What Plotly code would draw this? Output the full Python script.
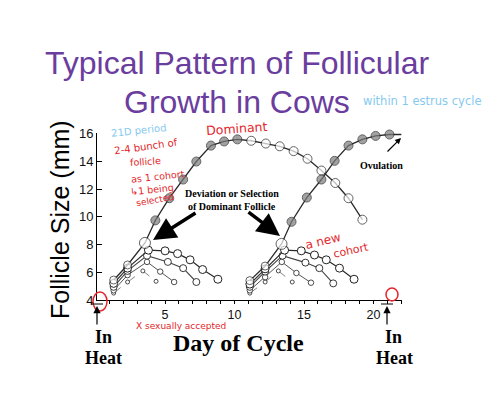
import plotly.graph_objects as go

# ---------------- data (day of cycle, follicle size mm) ----------------
# first follicular wave
dom1_day = [1.3, 2.3, 3.55, 4.3, 5.3, 6.3, 7.25, 8.3, 9.25, 10.2, 11.2, 12.25, 13.25, 14.25, 15.25, 16.25, 17.25, 18.2, 19.2]
dom1_mm = [5.44, 6.53, 8.12, 9.75, 11.35, 12.7, 14.0, 15.15, 15.45, 15.6, 15.5, 15.3, 15.1, 14.75, 14.2, 13.35, 12.45, 11.35, 9.8]
sub1a_day = [1.3, 2.3, 3.8, 5.0, 5.9, 6.8, 7.7, 8.8]
sub1a_mm = [5.2, 6.3, 7.6, 7.55, 7.35, 6.9, 6.2, 5.5]
sub1b_day = [1.3, 2.3, 3.7, 5.2, 6.3, 7.25]
sub1b_mm = [4.95, 6.1, 7.2, 6.75, 6.3, 5.3]
sub1c_day = [1.3, 2.3, 3.7, 4.65, 5.65]
sub1c_mm = [4.7, 5.8, 6.75, 6.05, 5.3]
sub1d_day = [1.3, 2.3, 3.4, 4.35]
sub1d_mm = [4.5, 5.3, 6.1, 5.35]

# second (ovulatory) follicular wave
dom2_day = [11.1, 12.2, 13.38, 14.1, 15.2, 16.25, 17.2, 18.2, 19.2, 20.15, 21.15, 22.0]
dom2_mm = [5.4, 6.45, 8.05, 9.65, 11.4, 12.7, 14.05, 15.15, 15.6, 15.85, 15.95, 15.95]
sub2a_day = [11.1, 12.2, 13.6, 14.8, 15.75, 16.6, 17.55, 18.6]
sub2a_mm = [5.15, 6.25, 7.6, 7.55, 7.25, 6.9, 6.3, 5.5]
sub2b_day = [11.1, 12.2, 13.45, 15.1, 16.1, 17.1]
sub2b_mm = [4.95, 6.05, 7.2, 6.7, 6.3, 5.2]
sub2c_day = [11.1, 12.2, 13.4, 14.45, 15.5]
sub2c_mm = [4.7, 5.65, 6.75, 5.95, 5.25]
sub2d_day = [11.1, 12.2, 13.15, 14.15]
sub2d_mm = [4.5, 5.3, 6.1, 5.3]

x_ticks = [5, 10, 15, 20]
y_ticks = [4, 6, 8, 10, 12, 14, 16]

# ---------------- layout helpers ----------------
W, H = 500, 396
L, R, T, B = 97, 402, 133, 300
def px(x):
    return (x - L) / (R - L)
def py(y):
    return (B - y) / (B - T)

GRAY = "#7b7b7b"
LINE = "#2a2a2a"
RED = "#e3262b"
BLUE = "#86c9ef"
PURPLE = "#6a3d9e"

fig = go.Figure()

def add(days, mm, fills, sizes, dash="solid", lw=1.2, lc=LINE, mlw=1.0):
    fig.add_trace(go.Scatter(
        x=days, y=mm, mode="lines+markers",
        line=dict(color=lc, width=lw, dash=dash),
        marker=dict(color=fills, size=sizes, line=dict(color="#222", width=mlw)),
        cliponaxis=False, showlegend=False, hoverinfo="skip"))

# subordinate follicles
for d, m in [(sub1d_day, sub1d_mm), (sub2d_day, sub2d_mm)]:
    add(d, m, "white", 4, dash="dash", lw=0.9, lc="#777", mlw=0.8)
for d, m in [(sub1c_day, sub1c_mm), (sub2c_day, sub2c_mm)]:
    add(d, m, "white", 5.5, lw=1.0, lc="#555", mlw=0.8)
for d, m in [(sub1b_day, sub1b_mm), (sub2b_day, sub2b_mm)]:
    add(d, m, "white", 7, lw=1.1, lc="#444", mlw=0.9)
for d, m in [(sub1a_day, sub1a_mm), (sub2a_day, sub2a_mm)]:
    add(d, m, "white", 8, lw=1.2, lc=LINE, mlw=1.0)

# dominant follicles
add(dom1_day, dom1_mm, ["white"] * 3 + [GRAY] * 7 + ["white"] * 9,
    [8, 8, 11] + [9] * 16, lw=1.3)
add(dom2_day, dom2_mm, ["white"] * 3 + [GRAY] * 8 + ["white"],
    [8, 8, 11] + [9] * 8 + [0], lw=1.3)

ann = []
def text(x, y, s, size, color="black", family="Liberation Sans", angle=0, xanchor="center"):
    ann.append(dict(x=px(x), y=py(y), xref="paper", yref="paper", text=s, showarrow=False,
                    font=dict(size=size, color=color, family=family), textangle=angle,
                    xanchor=xanchor, yanchor="middle"))

def arrow(tx, ty, fx, fy, width, size, color="black"):
    ann.append(dict(x=px(tx), y=py(ty), xref="paper", yref="paper", text="",
                    showarrow=True, ax=fx - tx, ay=fy - ty, axref="pixel", ayref="pixel",
                    arrowhead=2, arrowsize=size, arrowwidth=width, arrowcolor=color, standoff=0))

# title
text(237, 63, "Typical Pattern of Follicular", 32, PURPLE)
text(237, 102, "Growth in Cows", 32, PURPLE)
text(422, 101, "within 1 estrus cycle", 11.5, BLUE, "DejaVu Sans")

# axis titles
text(60, 220, "Follicle Size (mm)", 25, "black", angle=-90)
text(238, 343, "<b>Day of Cycle</b>", 24, "black", "Liberation Serif")

# In heat labels + arrows
text(103, 337, "<b>In</b>", 18, "black", "Liberation Serif")
text(103, 358, "<b>Heat</b>", 18, "black", "Liberation Serif")
text(393, 337, "<b>In</b>", 18, "black", "Liberation Serif")
text(394, 358, "<b>Heat</b>", 18, "black", "Liberation Serif")
arrow(97, 306, 97, 326, 1.2, 1.2)
arrow(387, 306, 387, 326, 1.2, 1.2)

# deviation annotation
text(232, 193, "<b>Deviation or Selection</b>", 10, "black", "Liberation Serif")
text(232, 206, "<b>of Dominant Follicle</b>", 10, "black", "Liberation Serif")
arrow(153, 240, 197, 212, 3.5, 1.3)
arrow(280, 236, 247, 211, 3.5, 1.3)

# ovulation
text(381, 165, "<b>Ovulation</b>", 10, "black", "Liberation Serif")
arrow(401, 138, 386, 153, 1.2, 1.0)

# handwritten notes
text(236, 128, "Dominant", 12.5, RED, "DejaVu Sans", angle=-4)
text(108, 130, "21D period", 10, BLUE, "DejaVu Sans", angle=-6, xanchor="left")
text(111, 146, "2-4 bunch of", 10, RED, "DejaVu Sans", angle=-8, xanchor="left")
text(128, 161, "follicle", 9.5, RED, "DejaVu Sans", angle=-4, xanchor="left")
text(128, 176, "as 1 cohort", 9.5, RED, "DejaVu Sans", angle=-6, xanchor="left")
text(127, 189, "\u21b31 being", 9.5, RED, "DejaVu Sans", angle=-6, xanchor="left")
text(133, 200, "selected", 9, RED, "DejaVu Sans", angle=-10, xanchor="left")
text(323, 241, "a new", 12, RED, "DejaVu Sans", angle=-14)
text(351, 250, "cohort", 11, RED, "DejaVu Sans", angle=-12)
text(181, 325.5, "X sexually accepted", 9, RED, "DejaVu Sans")

shapes = [
    dict(type="circle", xref="paper", yref="paper", x0=px(93), x1=px(107), y0=py(311), y1=py(292),
         line=dict(color=RED, width=1.5)),
    dict(type="circle", xref="paper", yref="paper", x0=px(386), x1=px(398), y0=py(301), y1=py(288),
         line=dict(color=RED, width=1.5)),
    dict(type="line", xref="paper", yref="paper", x0=px(91), x1=px(103), y0=py(304), y1=py(304),
         line=dict(color="black", width=1)),
    dict(type="line", xref="paper", yref="paper", x0=px(381), x1=px(393), y0=py(304), y1=py(304),
         line=dict(color="black", width=1)),
]

fig.update_layout(
    width=W, height=H,
    margin=dict(l=L, r=W - R, t=T, b=H - B, pad=0),
    paper_bgcolor="white", plot_bgcolor="white",
    annotations=ann, shapes=shapes,
    xaxis=dict(range=[0.1, 22.05], tickvals=x_ticks, ticks="outside", ticklen=3, tickcolor="black",
               ticklabelstandoff=0,
               minor=dict(dtick=1, ticks="outside", ticklen=3, tickcolor="black"),
               showline=True, linecolor="black", linewidth=1, showgrid=False, zeroline=False,
               tickfont=dict(family="Liberation Sans", size=12.5, color="#111")),
    yaxis=dict(range=[4, 16.06], tickvals=y_ticks, ticks="inside", ticklen=5, tickcolor="black",
               showline=True, linecolor="black", linewidth=1, showgrid=False, zeroline=False,
               tickfont=dict(family="Liberation Sans", size=13, color="#111")),
)

fig.write_html("out.html")
